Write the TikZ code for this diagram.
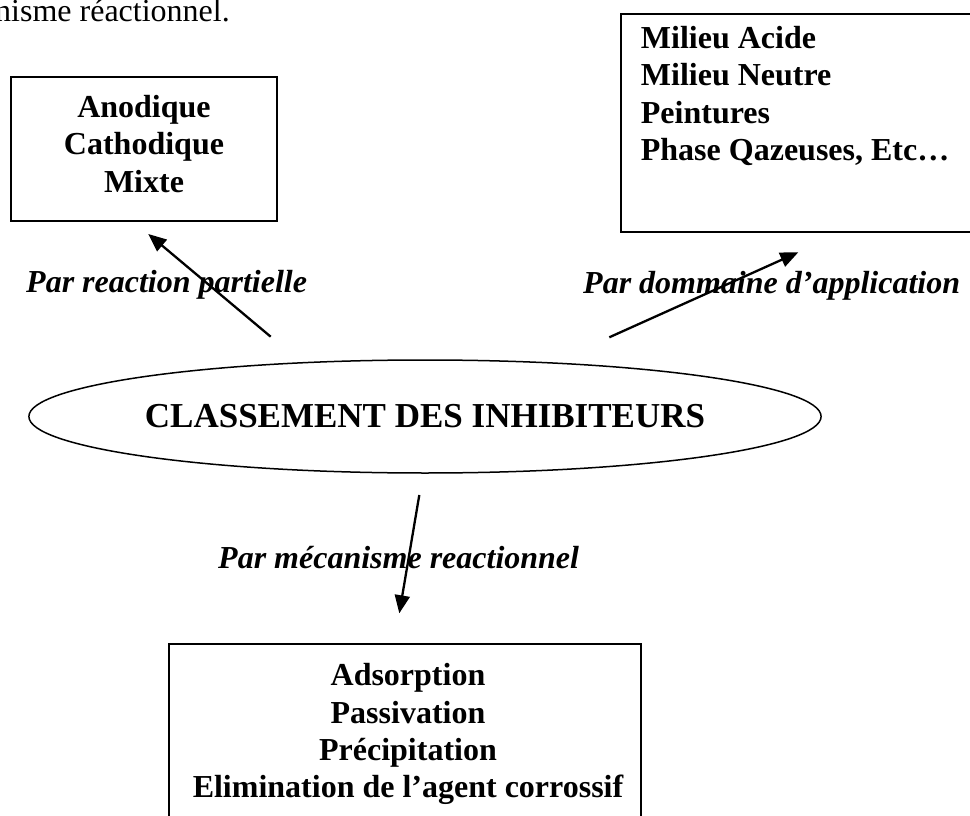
\documentclass[tikz,border=0pt]{standalone}
\usepackage{fontspec}
\setmainfont{Liberation Serif}
\usetikzlibrary{arrows.meta,positioning,shapes.geometric}

\begin{document}
\begin{tikzpicture}[x=1pt,y=-1pt,
  box/.style={draw, line width=2pt, inner sep=0pt, outer sep=0pt},
  boxtext/.style={font=\fontsize{32}{37.4}\selectfont\bfseries, inner sep=0pt},
  branche/.style={font=\fontsize{32}{37.4}\selectfont\bfseries\itshape, inner sep=0pt},
  fleche/.style={line width=2.3pt, -{Triangle[length=18pt,width=15pt]}}]
\useasboundingbox (0,0) rectangle (970,816);
\node[font=\fontsize{32}{37.4}\selectfont, inner sep=0pt, anchor=base east] (suite) at (230,21.5) {nisme réactionnel.};
\node[box, minimum width=266.6pt, minimum height=144pt, anchor=north west] (partielle) at (10.7,76.7) {};
\node[boxtext, align=center, below=18.3pt of partielle.north] (partielletxt) {Anodique\\Cathodique\\Mixte};
\node[box, minimum width=360pt, minimum height=218pt, anchor=north west] (domaine) at (620.7,14) {};
\node[boxtext, align=left, below right=11.8pt and 20pt of domaine.north west] (domainetxt) {Milieu Acide\\Milieu Neutre\\Peintures\\Phase Qazeuses, Etc…};
\node[box, minimum width=472pt, minimum height=200pt, anchor=north west] (mecanisme) at (169,644) {};
\node[boxtext, align=center, below=19.3pt of mecanisme.north, xshift=3pt] (mecanismetxt) {Adsorption\\Passivation\\Précipitation\\Elimination de l’agent corrossif};
\node[draw, ellipse, line width=1.5pt, minimum width=790pt, minimum height=113pt, inner sep=0pt, font=\fontsize{35}{40}\selectfont\bfseries] (classement) at (425,416.5) {CLASSEMENT DES INHIBITEURS};
\node[branche, anchor=base west] (parpartielle) at (26,292) {Par reaction partielle};
\node[branche, anchor=base west] (pardomaine) at (583,293) {Par dommaine d’application};
\node[branche, anchor=base west] (parmecanisme) at (218,568) {Par mécanisme reactionnel};
\coordinate (dep1) at (270.7,336.7); \coordinate (arr1) at (148.3,234);
\coordinate (dep2) at (609.3,337.3); \coordinate (arr2) at (798.3,252.3);
\coordinate (dep3) at (419.3,495);   \coordinate (arr3) at (399.3,613.3);
\foreach \i in {1,2,3} \draw[fleche] (dep\i) -- (arr\i);
\end{tikzpicture}
\end{document}
